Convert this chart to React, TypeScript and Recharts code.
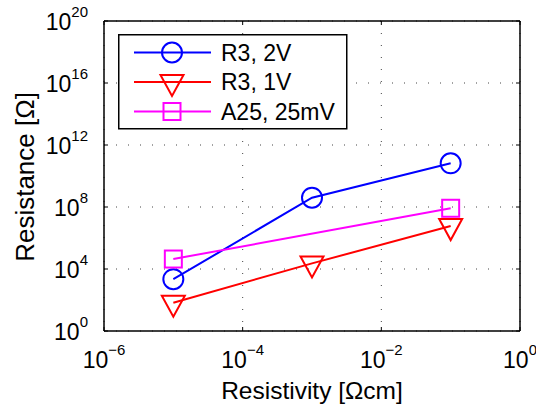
import React from 'react';
import { LineChart, Line, XAxis, YAxis, CartesianGrid, ReferenceLine, Legend } from 'recharts';

// resistivity (Ωcm) and measured resistance (Ω)
const resistivity = [1e-5, 1e-3, 1e-1];
const r3At2V = [2.2e3, 4e8, 6.6e10];
const r3At1V = [67, 2.3e4, 5.9e6];
const a25At25mV = [4.4e4, null, 8.3e7];

const xTicks = [1e-6, 1e-4, 1e-2, 1];
const yTicks = [1, 1e4, 1e8, 1e12, 1e16, 1e20];

const series = [
  { key: 'r3_2v', name: 'R3, 2V', color: '#0000ff', shape: 'circle' },
  { key: 'r3_1v', name: 'R3, 1V', color: '#ff0000', shape: 'triangle' },
  { key: 'a25', name: 'A25, 25mV', color: '#ff00ff', shape: 'square' },
];

const data = resistivity.map((x, i) => ({
  x,
  r3_2v: r3At2V[i],
  r3_1v: r3At1V[i],
  a25: a25At25mV[i],
}));

const FONT = '"Liberation Sans", Arial, Helvetica, sans-serif';
const W = 536;
const H = 407;
const LEFT = 104;
const TOP = 21;
const RIGHT = 16;
const BOTTOM = 76;
const PW = W - LEFT - RIGHT;
const PH = H - TOP - BOTTOM;

const expOf = (v: number) => {
  const e = Math.round(Math.log10(v));
  return e < 0 ? '\u2212' + Math.abs(e) : String(e);
};

const Marker = ({ shape, cx, cy, color }: any) => {
  if (cx == null || cy == null) return null;
  if (shape === 'circle') {
    return <circle cx={cx} cy={cy} r={10} fill="none" stroke={color} strokeWidth={2} />;
  }
  if (shape === 'triangle') {
    const pts = `${cx - 11.5},${cy - 7} ${cx + 11.5},${cy - 7} ${cx},${cy + 14}`;
    return <polygon points={pts} fill="none" stroke={color} strokeWidth={2} />;
  }
  return <rect x={cx - 8.5} y={cy - 8.5} width={17} height={17} fill="none" stroke={color} strokeWidth={2} />;
};

const XTick = ({ x, y, payload }: any) => (
  <g>
    <line x1={x} y1={y} x2={x} y2={y - 4} stroke="#000" strokeWidth={1} />
    <line x1={x} y1={y - PH} x2={x} y2={y - PH + 4} stroke="#000" strokeWidth={1} />
    <text x={x} y={y + 37} textAnchor="middle" fontFamily={FONT} fontSize={23} fill="#000">
      <tspan>10</tspan>
      <tspan dy={-13} fontSize={15}>{expOf(payload.value)}</tspan>
    </text>
  </g>
);

const YTick = ({ x, y, payload }: any) => (
  <g>
    <line x1={x} y1={y} x2={x + 4} y2={y} stroke="#000" strokeWidth={1} />
    <line x1={x + PW} y1={y} x2={x + PW - 4} y2={y} stroke="#000" strokeWidth={1} />
    <text x={x - 16} y={y + 9} textAnchor="end" fontFamily={FONT} fontSize={23} fill="#000">
      <tspan>10</tspan>
      <tspan dy={-13} fontSize={15}>{expOf(payload.value)}</tspan>
    </text>
  </g>
);

const LegendBox = () => (
  <svg width={230} height={96} style={{ display: 'block' }}>
    <rect x={0.75} y={0.75} width={228} height={94} fill="#fff" stroke="#000" strokeWidth={1.5} />
    {series.map((s, i) => {
      const cy = 18.5 + i * 29.5;
      return (
        <g key={s.key}>
          <line x1={16} y1={cy} x2={93} y2={cy} stroke={s.color} strokeWidth={2} />
          <Marker shape={s.shape} cx={54} cy={cy} color={s.color} />
          <text x={103} y={cy + 8} fontFamily={FONT} fontSize={23} fill="#000">{s.name}</text>
        </g>
      );
    })}
  </svg>
);

export default function App() {
  return (
    <div style={{ position: 'absolute', left: 0, top: 0, width: W, height: H, background: '#fff', overflow: 'hidden' }}>
      <LineChart width={W} height={H} data={data} margin={{ top: TOP, right: RIGHT, left: 0, bottom: 0 }}>
        <CartesianGrid stroke="#444" strokeDasharray="1 11" />
        <XAxis
          dataKey="x"
          type="number"
          scale="log"
          domain={[1e-6, 1]}
          ticks={xTicks}
          allowDataOverflow
          height={BOTTOM}
          tickSize={0}
          tickMargin={0}
          tickLine={false}
          axisLine={{ stroke: '#000', strokeWidth: 1.5 }}
          tick={<XTick />}
          interval={0}
          label={{
            content: ({ viewBox }: any) => (
              <text x={viewBox.x + viewBox.width / 2} y={viewBox.y + 68} textAnchor="middle" fontFamily={FONT} fontSize={24.5} fill="#000">
                Resistivity [Ωcm]
              </text>
            ),
          }}
        />
        <YAxis
          type="number"
          scale="log"
          domain={[1, 1e20]}
          ticks={yTicks}
          allowDataOverflow
          width={LEFT}
          tickSize={0}
          tickMargin={0}
          tickLine={false}
          axisLine={{ stroke: '#000', strokeWidth: 1.5 }}
          tick={<YTick />}
          interval={0}
          label={{
            content: ({ viewBox }: any) => {
              const cx = 34;
              const cy = viewBox.y + viewBox.height / 2 + 1;
              return (
                <text x={cx} y={cy} transform={`rotate(-90, ${cx}, ${cy})`} textAnchor="middle" fontFamily={FONT} fontSize={26} fill="#000">
                  Resistance [Ω]
                </text>
              );
            },
          }}
        />
        <ReferenceLine y={1e20} stroke="#000" strokeWidth={1.5} />
        <ReferenceLine x={1} stroke="#000" strokeWidth={1.5} />
        {series.map((s) => (
          <Line
            key={s.key}
            dataKey={s.key}
            name={s.name}
            stroke={s.color}
            strokeWidth={2}
            connectNulls
            isAnimationActive={false}
            dot={(p: any) => <Marker key={`${s.key}-${p.index}`} shape={s.shape} cx={p.cx} cy={p.cy} color={s.color} />}
            activeDot={false}
          />
        ))}
        <Legend
          layout="vertical"
          align="center"
          verticalAlign="middle"
          content={() => <LegendBox />}
          wrapperStyle={{ left: 118, top: 34, width: 230, height: 96 }}
        />
      </LineChart>
    </div>
  );
}
